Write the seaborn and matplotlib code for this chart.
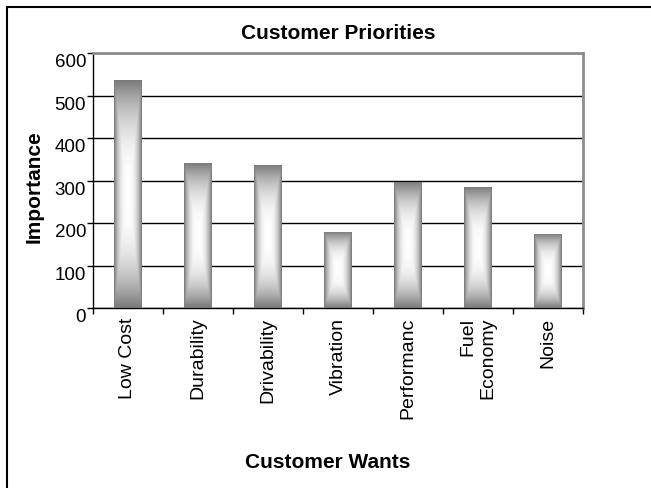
import numpy as np
import pandas as pd
import matplotlib
matplotlib.use("Agg")
import matplotlib.pyplot as plt
import seaborn as sns
from matplotlib.lines import Line2D

categories = ["Low Cost", "Durability", "Drivability", "Vibration",
              "Performanc", "Fuel\nEconomy", "Noise"]
importance = [536, 341, 337, 179, 297, 285, 175]
y_ticks = [0, 100, 200, 300, 400, 500, 600]

sns.set_style("white")
plt.rcParams['font.family'] = ['Liberation Sans', 'DejaVu Sans']
plt.rcParams['text.color'] = 'black'
plt.rcParams['axes.labelcolor'] = 'black'
plt.rcParams['xtick.color'] = 'black'
plt.rcParams['ytick.color'] = 'black'

W, H = 651, 489
fig = plt.figure(figsize=(W / 100, H / 100), dpi=100)
ax = fig.add_axes([93 / W, 1 - 309.3 / H, (583 - 93) / W, (309.3 - 54) / H])

df = pd.DataFrame({"Customer Wants": categories, "Importance": importance})
dark_hex = "#777777"
sns.barplot(data=df, x="Customer Wants", y="Importance", color=dark_hex,
            width=0.40, saturation=1, ax=ax, zorder=2, linewidth=0)

# rectangular "from centre" gradient fill for each bar
ny, nx = 400, 80
v = np.linspace(-1, 1, ny)[:, None]
u = np.linspace(-1, 1, nx)[None, :]
t = np.maximum(np.abs(u), np.abs(v))
dark = 0x77 / 255
val = dark + (1 - dark) * (1 - t ** 2.5)
rgb = np.dstack([val, val, val])
for p in list(ax.patches):
    x0, y0 = p.get_x(), p.get_y()
    w, h = p.get_width(), p.get_height()
    im = ax.imshow(rgb, extent=[x0, x0 + w, y0, y0 + h], aspect='auto',
                   zorder=3, interpolation='bilinear', origin='lower')
    im.set_clip_path(p)

ax.set_xlim(-0.5, len(categories) - 0.5)
ax.set_ylim(0, 600)
ax.set_yticks(y_ticks)
ax.set_xticks(range(len(categories)))
ax.set_xticklabels(categories, rotation=90, va='top', ha='center',
                   multialignment='right', fontsize=14, color='black')
ax.set_xticks(np.arange(-0.5, len(categories), 1), minor=True)
ax.tick_params(axis='x', which='major', length=0, pad=6)
ax.tick_params(axis='x', which='minor', length=4, width=1, color='black',
               direction='out', bottom=True)
ax.tick_params(axis='y', length=4, width=1, color='black', direction='out',
               left=True, pad=1, labelsize=13.5, labelcolor='black')
for lab in ax.get_yticklabels():
    lab.set_va('top')

ax.yaxis.grid(True, color='black', linewidth=1)
ax.xaxis.grid(False)
ax.set_axisbelow(True)

for s in ['left', 'bottom']:
    ax.spines[s].set_color('black')
    ax.spines[s].set_linewidth(1)
for s in ['top', 'right']:
    ax.spines[s].set_color('#8c8c8c')
    ax.spines[s].set_linewidth(2)

ax.set_title("Customer Priorities", fontsize=15, fontweight='bold', pad=11,
             color='black')
ax.set_xlabel("Customer Wants", fontsize=15, fontweight='bold', color='black')
ax.xaxis.set_label_coords(0.479, -0.60)
ax.xaxis.label.set_va('center')
ax.set_ylabel("Importance", fontsize=15, fontweight='bold', color='black')
ax.yaxis.set_label_coords(-0.121, 0.481)
ax.yaxis.label.set_va('center')

# outer chart-area frame
fig.add_artist(Line2D([7 / W, 7 / W], [0, 1 - 8 / H], color='black', lw=1.5))
fig.add_artist(Line2D([7 / W, 1], [1 - 8 / H, 1 - 8 / H], color='black', lw=1.5))

fig.savefig("out.png", dpi=100)
